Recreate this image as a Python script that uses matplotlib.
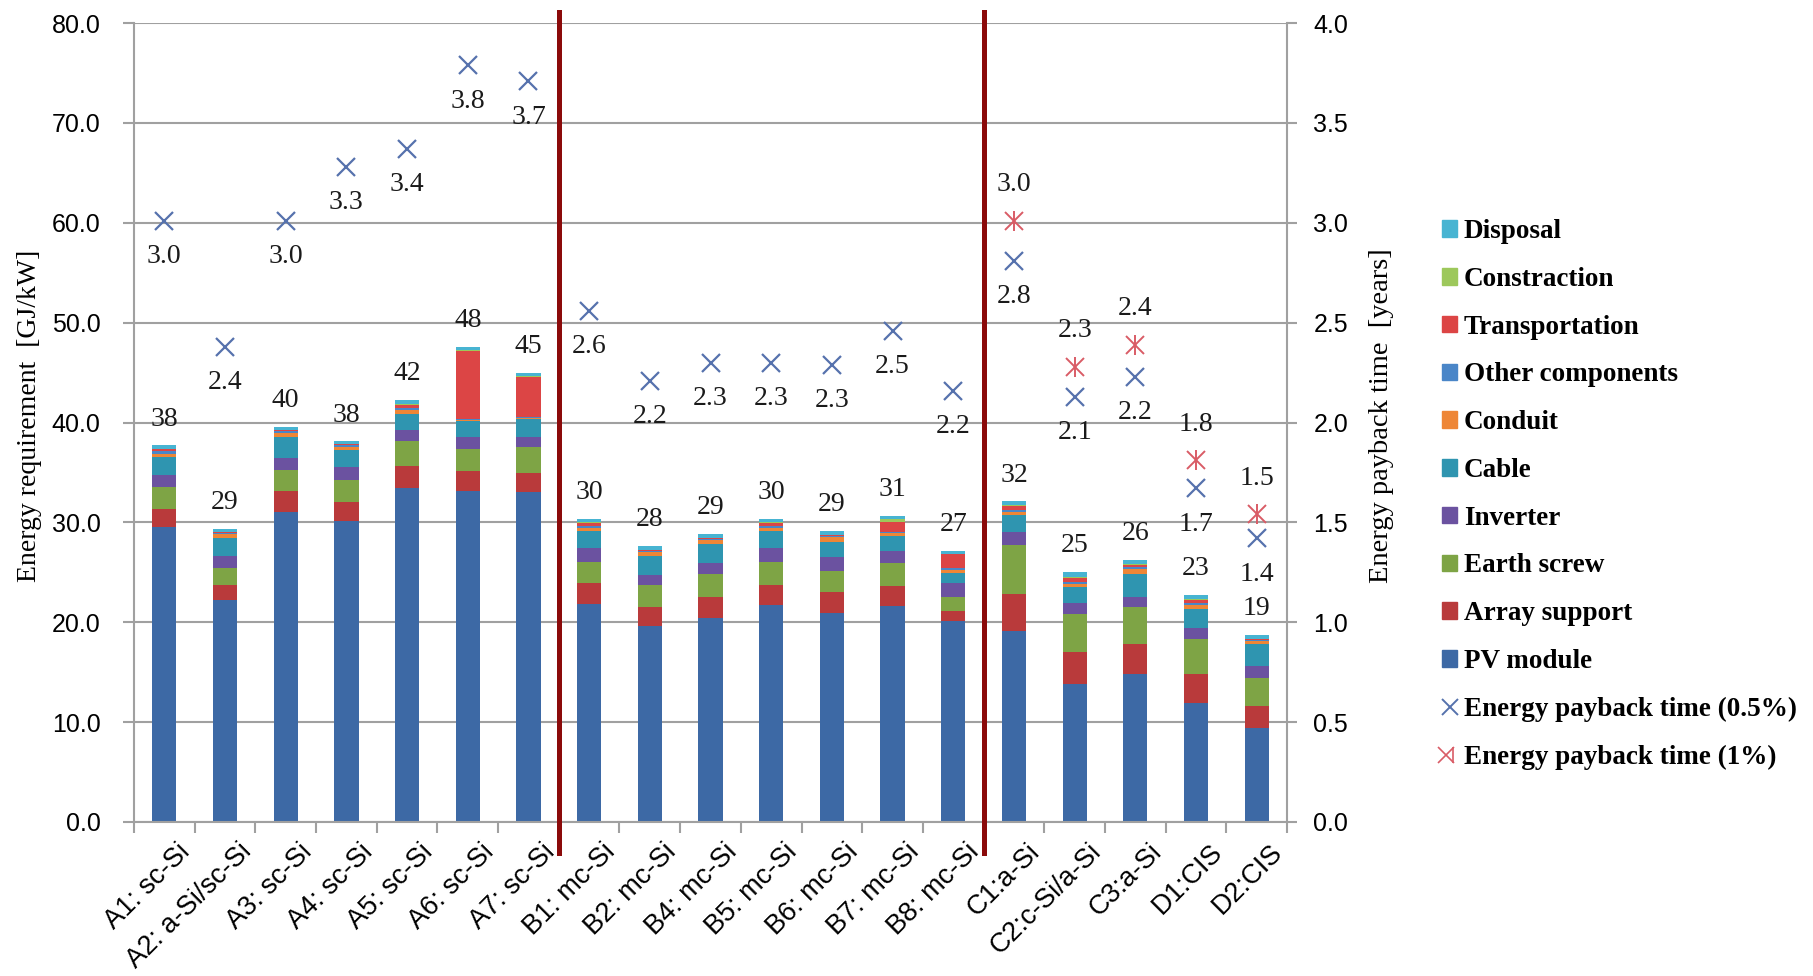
import numpy as np
import matplotlib.pyplot as plt
from matplotlib.lines import Line2D
from matplotlib.patches import Patch
from matplotlib.legend_handler import HandlerTuple
from matplotlib.transforms import ScaledTranslation

plt.rcParams['font.family'] = ['Liberation Sans', 'DejaVu Sans']

# systems
categories = ['A1: sc-Si', 'A2: a-Si/sc-Si', 'A3: sc-Si', 'A4: sc-Si', 'A5: sc-Si',
              'A6: sc-Si', 'A7: sc-Si', 'B1: mc-Si', 'B2: mc-Si', 'B4: mc-Si',
              'B5: mc-Si', 'B6: mc-Si', 'B7: mc-Si', 'B8: mc-Si', 'C1:a-Si',
              'C2:c-Si/a-Si', 'C3:a-Si', 'D1:CIS', 'D2:CIS']

# energy requirement by component [GJ/kW]
pv_module = [29.5, 22.2, 31.0, 30.1, 33.4, 33.1, 33.0, 21.8, 19.6, 20.4,
             21.7, 20.9, 21.6, 20.1, 19.1, 13.8, 14.8, 11.9, 9.4]
array_support = [1.8, 1.5, 2.1, 1.9, 2.2, 2.0, 1.9, 2.1, 1.9, 2.1,
                 2.0, 2.1, 2.0, 1.0, 3.7, 3.2, 3.0, 2.9, 2.2]
earth_screw = [2.2, 1.7, 2.1, 2.2, 2.5, 2.2, 2.6, 2.1, 2.2, 2.3,
               2.3, 2.1, 2.3, 1.4, 4.9, 3.8, 3.7, 3.5, 2.8]
inverter = [1.2, 1.2, 1.2, 1.3, 1.2, 1.2, 1.0, 1.4, 1.0, 1.1,
            1.4, 1.4, 1.2, 1.4, 1.3, 1.1, 1.0, 1.1, 1.2]
cable = [1.8, 1.8, 2.1, 1.7, 1.6, 1.7, 1.9, 1.7, 1.9, 1.9,
         1.7, 1.5, 1.5, 1.0, 1.7, 1.6, 2.3, 1.9, 2.2]
conduit = [0.3, 0.4, 0.4, 0.3, 0.4, 0.1, 0.1, 0.3, 0.4, 0.4,
           0.3, 0.5, 0.3, 0.3, 0.3, 0.3, 0.5, 0.4, 0.3]
other_components = [0.3, 0.1, 0.2, 0.2, 0.2, 0.1, 0.1, 0.2, 0.1, 0.1,
                    0.2, 0.1, 0.1, 0.2, 0.2, 0.2, 0.2, 0.2, 0.1]
transportation = [0.2, 0.1, 0.2, 0.1, 0.3, 6.8, 4.0, 0.3, 0.1, 0.1,
                  0.3, 0.1, 1.0, 1.4, 0.4, 0.4, 0.2, 0.3, 0.1]
constraction = [0.0, 0.0, 0.0, 0.0, 0.1, 0.1, 0.1, 0.1, 0.0, 0.0,
                0.1, 0.0, 0.3, 0.0, 0.1, 0.1, 0.1, 0.1, 0.0]
disposal = [0.4, 0.3, 0.3, 0.3, 0.4, 0.3, 0.3, 0.3, 0.4, 0.4,
            0.3, 0.4, 0.3, 0.3, 0.4, 0.5, 0.4, 0.4, 0.4]

# energy payback time [years]
epbt_05 = [3.01, 2.38, 3.01, 3.28, 3.37, 3.79, 3.71, 2.56, 2.21, 2.30,
           2.30, 2.29, 2.46, 2.16, 2.81, 2.13, 2.23, 1.67, 1.42]
epbt_1 = [np.nan] * 14 + [3.01, 2.28, 2.39, 1.81, 1.54]

components = [
    ('PV module', pv_module, '#3d69a5'),
    ('Array support', array_support, '#b93a3b'),
    ('Earth screw', earth_screw, '#7ea445'),
    ('Inverter', inverter, '#6b52a0'),
    ('Cable', cable, '#2f95b0'),
    ('Conduit', conduit, '#ee8636'),
    ('Other components', other_components, '#4a86c8'),
    ('Transportation', transportation, '#dc4545'),
    ('Constraction', constraction, '#9dc85b'),
    ('Disposal', disposal, '#47b4d2'),
]

grey = '#a0a0a0'
serif = ['Liberation Serif', 'DejaVu Serif']

fig = plt.figure(figsize=(18.13, 9.76), dpi=100)
ax = fig.add_axes([0.0739, 0.1578, 0.6360, 0.8186])
ax2 = ax.twinx()

x = np.arange(len(categories))
bottom = np.zeros(len(categories))
for name, vals, col in components:
    ax.bar(x, vals, 0.4, bottom=bottom, color=col, zorder=2)
    bottom += np.array(vals)

for xi, tot in zip(x, bottom):
    ax.annotate(f'{tot:.0f}', (xi, tot), xytext=(0, 19), textcoords='offset points',
                ha='center', va='center', fontsize=20, family=serif, color='#1a1a1a')

ax.set_xlim(-0.5, len(categories) - 0.5)
ax.set_ylim(0, 80)
ax.set_yticks(np.arange(0, 81, 10))
ax.set_yticklabels([f'{v:.1f}' for v in np.arange(0, 81, 10)])
ax.grid(axis='y', color=grey, linewidth=1.5)
ax.set_axisbelow(True)

ax.set_xticks(x)
ax.set_xticklabels(categories, rotation=45, ha='right', rotation_mode='anchor')
ax.set_xticks(np.arange(-0.5, len(categories)), minor=True)
ax.tick_params(axis='x', which='major', length=0, pad=12, labelsize=19.5)
ax.tick_params(axis='x', which='minor', length=8, width=1.5, color=grey, direction='out')
ax.tick_params(axis='y', length=8, width=1.5, color=grey, pad=16, labelsize=18)
# nudge the slanted names so they end just right of each bar
shift = ScaledTranslation(0.13, 0.0, fig.dpi_scale_trans)
for lab in ax.get_xticklabels():
    lab.set_transform(lab.get_transform() + shift)

# payback time on the right-hand axis
ax2.set_ylim(0, 4)
ax2.set_yticks(np.arange(0, 4.01, 0.5))
ax2.set_yticklabels([f'{v:.1f}' for v in np.arange(0, 4.01, 0.5)])
ax2.tick_params(axis='y', length=7, width=1.5, color=grey, pad=12, labelsize=18)

c05 = '#5672ad'
c1 = '#d95c66'
ax2.plot(x, epbt_05, 'x', ms=13, mew=1.6, color=c05, zorder=3)
ax2.plot(x, epbt_1, 'x', ms=13, mew=1.4, color=c1, zorder=3)
ax2.plot(x, epbt_1, '|', ms=14, mew=1.4, color=c1, zorder=3)

for xi, v in zip(x, epbt_05):
    ax2.annotate(f'{v:.1f}', (xi, v), xytext=(0, -26), textcoords='offset points',
                 ha='center', va='center', fontsize=20, family=serif, color='#1a1a1a')
for xi, v in zip(x, epbt_1):
    if np.isnan(v):
        continue
    ax2.annotate(f'{v:.1f}', (xi, v), xytext=(0, 26), textcoords='offset points',
                 ha='center', va='center', fontsize=20, family=serif, color='#1a1a1a')

for a in (ax, ax2):
    for s in a.spines.values():
        s.set_color(grey)
        s.set_linewidth(1.5)
    a.spines['top'].set_visible(False)
ax.spines['right'].set_visible(False)
ax2.spines['left'].set_visible(False)
ax2.spines['bottom'].set_visible(False)

# group separators
for xs in (6.5, 13.5):
    ax2.axvline(xs, ymin=-0.039, ymax=1.014, color='#8b0a0a', linewidth=3.6,
                clip_on=False, zorder=5)

fig.text(0.016, 0.574, 'Energy requirement  [GJ/kW]', rotation=90, ha='center',
         va='center', fontsize=20, family=serif)
fig.text(0.762, 0.574, 'Energy payback time  [years]', rotation=90, ha='center',
         va='center', fontsize=20.5, family=serif)

handles = [Patch(color=col) for _, _, col in components[::-1]]
labels = [name for name, _, _ in components[::-1]]
handles.append(Line2D([], [], ls='none', marker='x', ms=11, mew=1.4, color=c05))
labels.append('Energy payback time (0.5%)')
handles.append((Line2D([], [], ls='none', marker='x', ms=11, mew=1.2, color=c1),
                Line2D([], [], ls='none', marker='|', ms=12, mew=1.2, color=c1)))
labels.append('Energy payback time (1%)')

fig.legend(handles, labels, loc='center left', bbox_to_anchor=(0.788, 0.4934),
           frameon=False, prop={'family': serif, 'size': 19.5, 'weight': 'bold'},
           handlelength=0.55, handleheight=0.55, handletextpad=0.25,
           labelspacing=0.84, borderpad=0,
           handler_map={tuple: HandlerTuple(ndivide=None)})

fig.savefig('out.png', dpi=100)
